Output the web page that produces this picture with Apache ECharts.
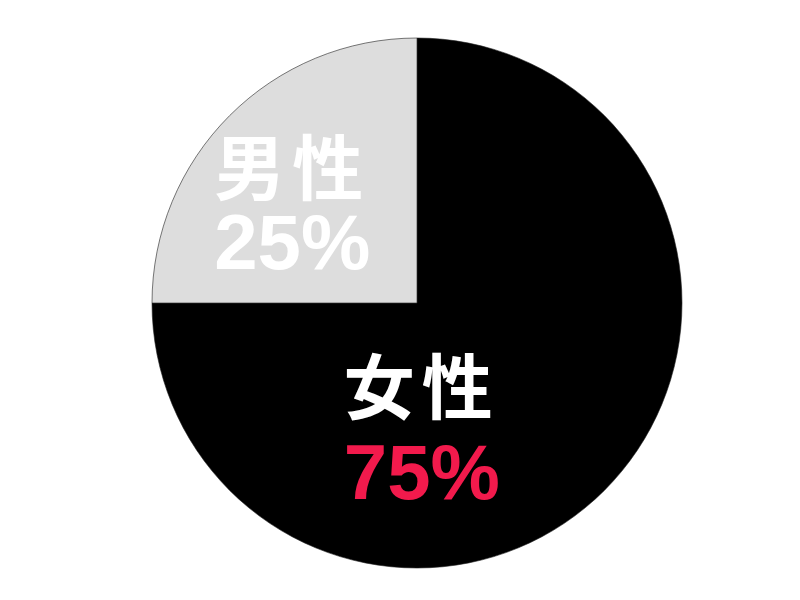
<!DOCTYPE html>
<html><head><meta charset="utf-8">
<script src="https://cdn.jsdelivr.net/npm/echarts@6/dist/echarts.min.js"></script>
<style>html,body{margin:0;padding:0;background:#fff}#c{width:800px;height:600px}</style>
</head><body><div id="c"></div>
<script>
var categories = ['女性', '男性'];
var values = [75, 25];
var sliceColors = ['#000000', '#dddddd'];
var valueColors = ['#f21a4c', '#ffffff'];
var labelShift = [[-91, 33], [-29, 0]];
var lineGaps = [92, 80];

var chart = echarts.init(document.getElementById('c'));
var data = categories.map(function (n, i) {
  var base = { color: '#fff', fontSize: 71, fontWeight: 'bold', fontFamily: 'Noto Sans CJK JP', lineHeight: lineGaps[i], align: 'left' };
  return {
    name: n, value: values[i],
    itemStyle: { color: sliceColors[i] },
    label: {
      rich: {
        a: Object.assign({}, base, { padding: [0, 7, 0, 0] }),
        b: base,
        v: { color: valueColors[i], fontSize: 78, fontWeight: 'bold', fontFamily: 'Liberation Sans', lineHeight: lineGaps[i], align: 'left' }
      }
    }
  };
});
chart.setOption({
  animation: false,
  series: [{
    type: 'pie',
    center: [417, 303],
    radius: [0, 265],
    startAngle: 90,
    clockwise: true,
    data: data,
    itemStyle: { borderColor: '#222', borderWidth: 0.6 },
    emphasis: { disabled: true },
    label: {
      show: true,
      position: 'inside',
      formatter: function (p) {
        var chars = p.name.split('');
        return '{a|' + chars[0] + '}{b|' + chars.slice(1).join('') + '}\n{v|' + p.value + '%}';
      }
    },
    labelLine: { show: false },
    labelLayout: function (p) {
      var s = labelShift[p.dataIndex];
      return { dx: s[0], dy: s[1] };
    }
  }]
});
</script></body></html>
